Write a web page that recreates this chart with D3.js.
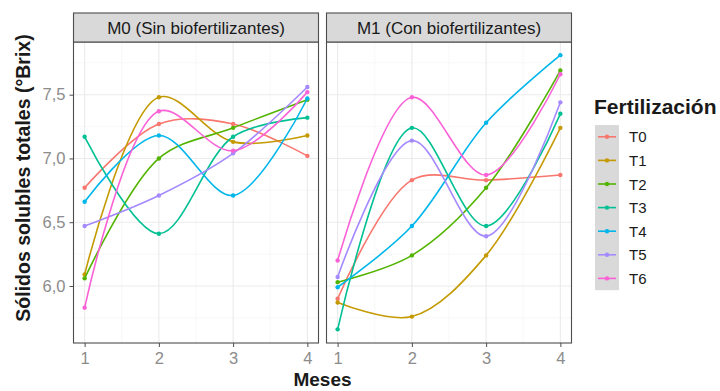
<!DOCTYPE html>
<html><head><meta charset="utf-8">
<script src="https://cdn.jsdelivr.net/npm/d3@7"></script>
<style>body{margin:0;background:#fff}svg{display:block;font-family:"Liberation Sans",Arial,sans-serif}</style>
</head><body>
<svg id="c" width="720" height="391"></svg>
<script>
const months = [1, 2, 3, 4];
const treatments = ["T0", "T1", "T2", "T3", "T4", "T5", "T6"];
const panels = ["M0 (Sin biofertilizantes)", "M1 (Con biofertilizantes)"];
const colors = ["#F8766D", "#C49A00", "#53B400", "#00C094", "#00B6EB", "#A58AFF", "#FB61D7"];
const yTicks = [6.0, 6.5, 7.0, 7.5];
const yTickLabels = ["6,0", "6,5", "7,0", "7,5"];
const xTickLabels = ["1", "2", "3", "4"];
// M0 values per treatment (months 1..4)
const m0_T0 = [6.77, 7.27, 7.27, 7.02];
const m0_T1 = [6.09, 7.48, 7.13, 7.18];
const m0_T2 = [6.06, 7.00, 7.24, 7.46];
const m0_T3 = [7.17, 6.41, 7.17, 7.32];
const m0_T4 = [6.66, 7.18, 6.71, 7.47];
const m0_T5 = [6.47, 6.71, 7.04, 7.56];
const m0_T6 = [5.83, 7.37, 7.06, 7.52];
// M1 values
const m1_T0 = [5.90, 6.83, 6.83, 6.87];
const m1_T1 = [5.87, 5.76, 6.24, 7.24];
const m1_T2 = [6.03, 6.24, 6.77, 7.69];
const m1_T3 = [5.66, 7.24, 6.47, 7.35];
const m1_T4 = [5.99, 6.47, 7.28, 7.81];
const m1_T5 = [6.07, 7.14, 6.39, 7.44];
const m1_T6 = [6.20, 7.48, 6.87, 7.66];
const data = [
  [m0_T0, m0_T1, m0_T2, m0_T3, m0_T4, m0_T5, m0_T6],
  [m1_T0, m1_T1, m1_T2, m1_T3, m1_T4, m1_T5, m1_T6]
];

const svg = d3.select("#c");
const panelX = [[73.5, 318.5], [326.5, 571.5]];
const stripTop = 13, pTop = 42, pBottom = 343;
const y = d3.scaleLinear().domain([5.553, 7.913]).range([pBottom, pTop]);
const color = d3.scaleOrdinal().domain(treatments).range(colors);
const tickColor = "#8c8c8c";

panels.forEach((title, p) => {
  const [x0, x1] = panelX[p];
  const x = d3.scaleLinear().domain([0.85, 4.15]).range([x0, x1]);
  const g = svg.append("g");
  g.append("rect").attr("x", x0).attr("y", pTop).attr("width", x1 - x0).attr("height", pBottom - pTop).attr("fill", "#fff");
  [5.75, 6.25, 6.75, 7.25, 7.75].forEach(v => g.append("line").attr("x1", x0).attr("x2", x1).attr("y1", y(v)).attr("y2", y(v)).attr("stroke", "#f4f4f4").attr("stroke-width", 0.6));
  [1.5, 2.5, 3.5].forEach(v => g.append("line").attr("y1", pTop).attr("y2", pBottom).attr("x1", x(v)).attr("x2", x(v)).attr("stroke", "#f4f4f4").attr("stroke-width", 0.6));
  yTicks.forEach(v => g.append("line").attr("x1", x0).attr("x2", x1).attr("y1", y(v)).attr("y2", y(v)).attr("stroke", "#ebebeb").attr("stroke-width", 1.1));
  months.forEach(v => g.append("line").attr("y1", pTop).attr("y2", pBottom).attr("x1", x(v)).attr("x2", x(v)).attr("stroke", "#ebebeb").attr("stroke-width", 1.1));

  const line = d3.line().x((d, i) => x(months[i])).y(d => y(d)).curve(d3.curveCatmullRom.alpha(0.5));
  data[p].forEach((vals, t) => {
    g.append("path").attr("d", line(vals)).attr("fill", "none").attr("stroke", colors[t]).attr("stroke-width", 1.6);
    g.selectAll(null).data(vals).enter().append("circle")
      .attr("cx", (d, i) => x(months[i])).attr("cy", d => y(d)).attr("r", 2.2).attr("fill", colors[t]);
  });
  g.append("rect").attr("x", x0).attr("y", pTop).attr("width", x1 - x0).attr("height", pBottom - pTop).attr("fill", "none").attr("stroke", "#4d4d4d").attr("stroke-width", 1.1);
  g.append("rect").attr("x", x0).attr("y", stripTop).attr("width", x1 - x0).attr("height", pTop - stripTop).attr("fill", "#d9d9d9").attr("stroke", "#4d4d4d").attr("stroke-width", 1.1);
  g.append("text").attr("x", (x0 + x1) / 2).attr("y", (stripTop + pTop) / 2 + 6).attr("text-anchor", "middle").attr("font-size", 17).attr("fill", "#1a1a1a").text(title);
  const xa = svg.append("g").attr("transform", `translate(0,${pBottom})`)
    .call(d3.axisBottom(x).tickValues(months).tickFormat((d, i) => xTickLabels[i]).tickSize(4).tickPadding(5));
  xa.select(".domain").remove();
  xa.selectAll("line").attr("stroke", "#4d4d4d");
  xa.selectAll("text").attr("fill", tickColor).attr("font-size", 16.5).attr("font-family", "Liberation Sans, Arial, sans-serif");
});

const ya = svg.append("g").attr("transform", `translate(${panelX[0][0]},0)`)
  .call(d3.axisLeft(y).tickValues(yTicks).tickFormat((d, i) => yTickLabels[i]).tickSize(4).tickPadding(4));
ya.select(".domain").remove();
ya.selectAll("line").attr("stroke", "#4d4d4d");
ya.selectAll("text").attr("fill", tickColor).attr("font-size", 16.5).attr("font-family", "Liberation Sans, Arial, sans-serif");

svg.append("text").attr("transform", `translate(30,${(stripTop + pBottom) / 2}) rotate(-90)`).attr("text-anchor", "middle")
  .attr("font-size", 19.5).attr("font-weight", "bold").attr("fill", "#1a1a1a").text("Sólidos solubles totales (°Brix)");
svg.append("text").attr("x", (panelX[0][0] + panelX[1][1]) / 2).attr("y", 386).attr("text-anchor", "middle")
  .attr("font-size", 19).attr("font-weight", "bold").attr("fill", "#1a1a1a").text("Meses");

const lg = svg.append("g");
lg.append("text").attr("x", 594).attr("y", 114).attr("font-size", 21).attr("font-weight", "bold").attr("fill", "#1a1a1a").text("Fertilización");
const keyTop = 125, keyH = 23.6;
lg.append("rect").attr("x", 595).attr("y", keyTop).attr("width", 24).attr("height", keyH * treatments.length).attr("fill", "#d9d9d9");
treatments.forEach((t, i) => {
  const cy = keyTop + keyH * (i + 0.5);
  lg.append("line").attr("x1", 598).attr("x2", 616).attr("y1", cy).attr("y2", cy).attr("stroke", color(t)).attr("stroke-width", 1.6);
  lg.append("circle").attr("cx", 607).attr("cy", cy).attr("r", 2.2).attr("fill", color(t));
  lg.append("text").attr("x", 629).attr("y", cy + 5.5).attr("font-size", 15).attr("fill", "#1a1a1a").text(t);
});
</script>
</body></html>
